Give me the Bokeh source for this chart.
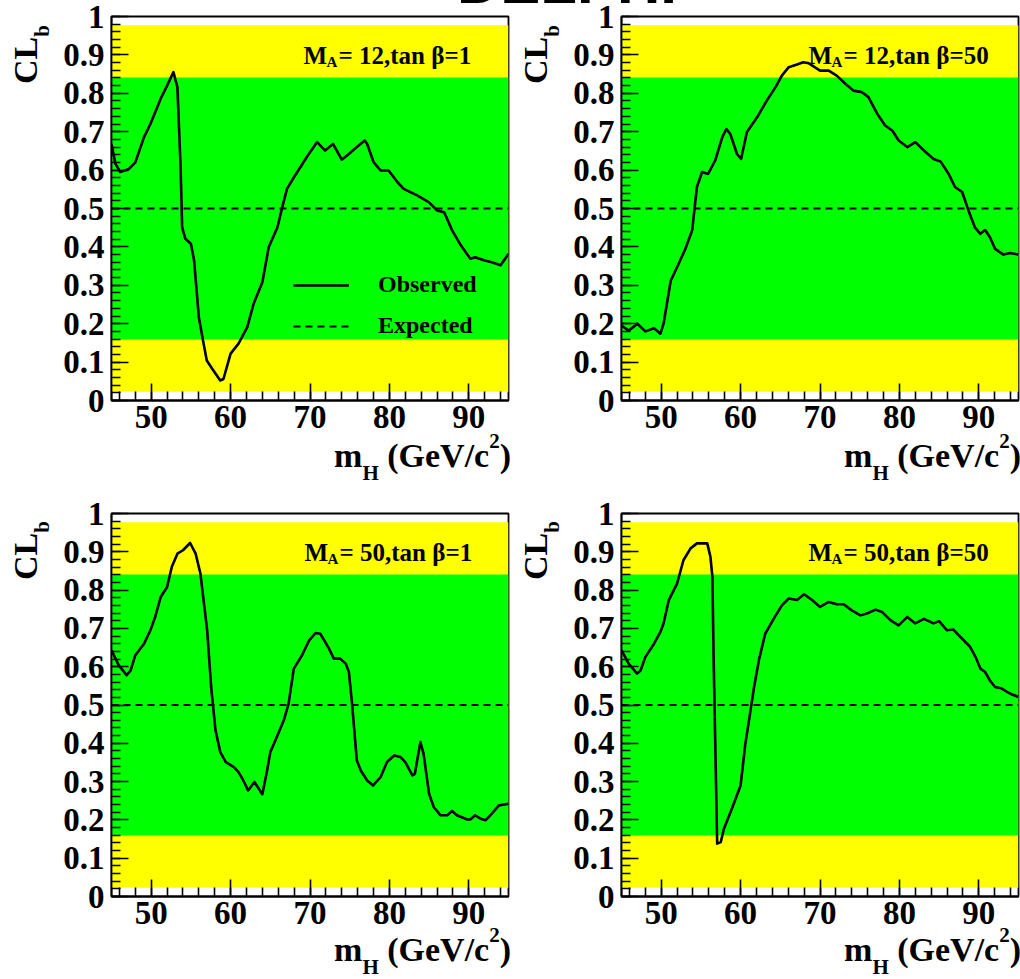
import numpy as np
from bokeh.plotting import figure
from bokeh.models import (Range1d, FixedTicker, BoxAnnotation, Label, Legend,
                          LegendItem, Div)
from bokeh.layouts import column, row
from bokeh.embed import file_html
from bokeh.resources import INLINE

# ---------------- data ----------------
band_2sigma = [0.023, 0.977]
band_1sigma = [0.159, 0.841]
expected_mh = [45, 95]
expected_cl = [0.5, 0.5]

x_ticks = [50, 60, 70, 80, 90]
y_ticks = [0, 0.1, 0.2, 0.3, 0.4, 0.5, 0.6, 0.7, 0.8, 0.9, 1.0]
y_tick_labels = ["0", "0.1", "0.2", "0.3", "0.4", "0.5", "0.6", "0.7", "0.8", "0.9", "1"]

# MA=12, tan beta=1
mh_a = [45.0, 45.5, 46.1, 47.2, 48.0, 49.1, 49.9, 51.2, 52.0, 52.8, 53.3, 53.7, 53.9, 54.3,
        55.0, 55.4, 56.0, 56.6, 57.0, 57.7, 58.7, 59.1, 60.0, 61.0, 62.1, 62.9, 64.0, 64.8,
        65.9, 66.5, 67.1, 68.0, 69.6, 70.9, 71.9, 72.9, 74.0, 74.9, 75.9, 76.9, 77.2, 78.0,
        78.9, 79.9, 81.0, 81.8, 83.5, 85.0, 86.0, 86.9, 87.9, 89.0, 90.2, 90.8, 91.9, 92.9,
        94.0, 95.0]
cl_a = [0.668, 0.616, 0.595, 0.603, 0.620, 0.686, 0.720, 0.786, 0.820, 0.855, 0.816, 0.608,
        0.451, 0.421, 0.408, 0.365, 0.217, 0.148, 0.104, 0.082, 0.052, 0.056, 0.122, 0.148,
        0.191, 0.252, 0.308, 0.399, 0.451, 0.503, 0.551, 0.582, 0.634, 0.673, 0.651, 0.668,
        0.627, 0.642, 0.660, 0.677, 0.668, 0.621, 0.599, 0.599, 0.569, 0.551, 0.534, 0.516,
        0.495, 0.490, 0.443, 0.404, 0.369, 0.373, 0.365, 0.360, 0.352, 0.382]

# MA=12, tan beta=50
mh_b = [45.0, 45.9, 47.0, 48.0, 49.1, 49.9, 50.3, 51.2, 52.0, 53.05, 53.9, 54.5, 55.15, 55.9,
        56.8, 57.7, 58.2, 58.7, 59.55, 60.06, 60.8, 62.1, 63.3, 64.4, 65.2, 66.06, 67.1, 67.9,
        68.6, 70.0, 71.1, 72.1, 73.2, 74.2, 75.3, 76.1, 77.2, 78.2, 79.1, 79.9, 81.0, 82.0,
        83.1, 84.3, 85.2, 86.2, 87.0, 87.9, 88.7, 89.5, 90.2, 90.8, 91.4, 92.05, 93.1, 93.95,
        95.0]
cl_b = [0.195, 0.182, 0.200, 0.180, 0.188, 0.174, 0.200, 0.312, 0.347, 0.395, 0.443, 0.556,
        0.595, 0.590, 0.625, 0.686, 0.707, 0.694, 0.642, 0.629, 0.699, 0.738, 0.781, 0.816,
        0.846, 0.868, 0.875, 0.881, 0.878, 0.859, 0.859, 0.846, 0.825, 0.807, 0.803, 0.790,
        0.747, 0.716, 0.703, 0.677, 0.660, 0.673, 0.651, 0.629, 0.622, 0.590, 0.556, 0.543,
        0.495, 0.451, 0.434, 0.444, 0.425, 0.395, 0.380, 0.384, 0.380]

# MA=50, tan beta=1
mh_c = [45.0, 45.9, 46.9, 47.4, 48.0, 49.1, 49.9, 50.5, 51.2, 52.0, 52.6, 53.3, 54.0, 54.9,
        55.6, 56.2, 57.05, 57.55, 58.1, 58.7, 59.4, 60.4, 61.0, 61.6, 62.2, 63.0, 64.0, 64.6,
        65.0, 65.65, 66.7, 67.3, 67.96, 69.0, 69.9, 70.7, 71.3, 72.4, 73.0, 73.8, 74.5, 74.9,
        75.3, 75.9, 76.4, 77.2, 77.95, 78.9, 79.7, 80.6, 81.4, 82.0, 82.9, 83.2, 83.9, 84.3,
        85.0, 85.6, 86.45, 87.3, 87.9, 88.5, 89.8, 90.2, 90.8, 91.5, 92.1, 92.7, 93.8, 95.0]
cl_c = [0.643, 0.604, 0.578, 0.590, 0.630, 0.660, 0.695, 0.730, 0.782, 0.808, 0.861, 0.895,
        0.904, 0.923, 0.895, 0.843, 0.695, 0.547, 0.434, 0.377, 0.351, 0.338, 0.325, 0.303,
        0.277, 0.299, 0.267, 0.329, 0.377, 0.408, 0.460, 0.503, 0.595, 0.630, 0.669, 0.688,
        0.686, 0.647, 0.621, 0.621, 0.608, 0.586, 0.503, 0.355, 0.329, 0.303, 0.290, 0.312,
        0.351, 0.368, 0.364, 0.351, 0.316, 0.320, 0.403, 0.373, 0.268, 0.233, 0.212, 0.212,
        0.223, 0.212, 0.201, 0.201, 0.212, 0.203, 0.199, 0.212, 0.238, 0.242]

# MA=50, tan beta=50
mh_d = [45.0, 45.9, 46.97, 47.4, 48.0, 49.1, 49.9, 50.3, 50.96, 52.0, 52.8, 53.7, 54.5, 55.8,
        56.2, 56.45, 56.6, 57.05, 57.5, 57.9, 58.9, 60.0, 60.6, 61.06, 61.7, 62.3, 63.1, 64.2,
        65.2, 66.06, 67.1, 68.0, 69.0, 70.0, 71.1, 72.1, 73.0, 74.0, 75.1, 75.9, 77.0, 77.8,
        78.9, 79.9, 81.0, 82.0, 83.1, 84.3, 85.0, 86.0, 86.8, 87.9, 88.9, 89.6, 90.2, 90.8,
        91.4, 92.05, 92.9, 93.9, 95.0]
cl_d = [0.643, 0.608, 0.582, 0.590, 0.625, 0.660, 0.691, 0.713, 0.774, 0.817, 0.878, 0.909,
        0.922, 0.922, 0.887, 0.834, 0.625, 0.138, 0.142, 0.177, 0.229, 0.290, 0.399, 0.460,
        0.547, 0.617, 0.686, 0.726, 0.760, 0.778, 0.774, 0.789, 0.774, 0.756, 0.769, 0.763,
        0.763, 0.747, 0.734, 0.739, 0.749, 0.743, 0.721, 0.708, 0.730, 0.713, 0.725, 0.713,
        0.719, 0.695, 0.697, 0.673, 0.652, 0.625, 0.595, 0.586, 0.564, 0.547, 0.543, 0.530,
        0.521]

panel_ma = ["12", "12", "50", "50"]
panel_tanb = ["1", "50", "1", "50"]
title_text = "DELPHI"
x_title = ("m", "H", " (GeV/c", "2", ")")
y_title = ("CL", "b")

SERIF = "Liberation Serif"


def lab(p, text, x, y, dx, dy, size):
    p.add_layout(Label(x=x, y=y, x_offset=dx, y_offset=dy, text=text,
                       text_font=SERIF, text_font_style="bold", text_font_size=size,
                       text_color="black", text_align="left", text_baseline="alphabetic"))


def make_panel(mh, cl, ma, tanb, frame_h, b_left, b_right, b_top, b_bottom, ann_dx,
               legend=False):
    p = figure(frame_width=397, frame_height=frame_h,
               x_range=Range1d(45, 95), y_range=Range1d(0, 1),
               output_backend="svg", toolbar_location=None,
               min_border_left=b_left, min_border_right=b_right,
               min_border_top=b_top, min_border_bottom=b_bottom,
               background_fill_color="white", border_fill_color="white")
    p.grid.visible = False
    p.outline_line_color = "black"
    p.outline_line_width = 1.8

    p.add_layout(BoxAnnotation(bottom=band_2sigma[0], top=band_2sigma[1],
                               fill_color="#ffff00", fill_alpha=1.0, line_color=None,
                               level="underlay"))
    p.add_layout(BoxAnnotation(bottom=band_1sigma[0], top=band_1sigma[1],
                               fill_color="#00ff00", fill_alpha=1.0, line_color=None,
                               level="underlay"))

    r_exp = p.line(expected_mh, expected_cl, line_color="black", line_width=2,
                   line_dash="7 5")
    r_obs = p.line(mh, cl, line_color="black", line_width=2.6, line_join="round")

    p.xaxis.ticker = FixedTicker(ticks=x_ticks, minor_ticks=list(range(46, 96, 2)))
    p.yaxis.ticker = FixedTicker(ticks=y_ticks,
                                 minor_ticks=[round(0.02 * i, 2) for i in range(51)])
    p.yaxis.major_label_overrides = dict(zip(y_ticks, y_tick_labels))
    for ax in (p.xaxis[0], p.yaxis[0]):
        ax.major_tick_in = 17
        ax.major_tick_out = 0
        ax.minor_tick_in = 9
        ax.minor_tick_out = 0
        ax.major_tick_line_color = "black"
        ax.minor_tick_line_color = "black"
        ax.major_tick_line_width = 1.6
        ax.minor_tick_line_width = 1.6
        ax.axis_line_color = "black"
        ax.axis_line_width = 1.8
        ax.major_label_text_font = SERIF
        ax.major_label_text_font_style = "bold"
        ax.major_label_text_font_size = "33px"
        ax.major_label_text_color = "black"
    p.xaxis.major_label_standoff = 5
    p.yaxis.major_label_standoff = 7

    # panel annotation  M_A= .., tan beta=..
    lab(p, "M", 45, 1, ann_dx, -39, "25px")
    lab(p, "A", 45, 1, ann_dx + 23, -45, "15px")
    lab(p, "= %s,tan \u03b2=%s" % (ma, tanb), 45, 1, ann_dx + 35, -39, "25px")

    if legend:
        leg = Legend(items=[LegendItem(label="Observed", renderers=[r_obs]),
                            LegendItem(label="Expected", renderers=[r_exp])],
                     location=(182, 61), orientation="vertical",
                     glyph_width=56, glyph_height=24, label_height=24, label_width=90,
                     spacing=14, padding=0, margin=0, label_standoff=29,
                     border_line_color=None, background_fill_alpha=0.0,
                     label_text_font=SERIF, label_text_font_style="bold",
                     label_text_font_size="24px", label_text_color="black")
        p.add_layout(leg)
    return p


p1 = make_panel(mh_a, cl_a, panel_ma[0], panel_tanb[0], 384, 111, 4, 16, 90, 192, legend=True)
p2 = make_panel(mh_b, cl_b, panel_ma[1], panel_tanb[1], 384, 109, 2, 16, 90, 187)
p3 = make_panel(mh_c, cl_c, panel_ma[2], panel_tanb[2], 383, 111, 4, 23, 83, 193)
p4 = make_panel(mh_d, cl_d, panel_ma[3], panel_tanb[3], 383, 109, 2, 23, 83, 187)

# ---- axis titles (with sub/superscripts) and the cropped page title, as HTML ----
FONT = ("font-family:'Liberation Serif',serif;font-weight:bold;line-height:1;"
        "white-space:nowrap;color:black;")


def x_title_html(right_edge, baseline):
    top = baseline - 28.5
    m, sub, mid, sup, end = x_title
    return ('<div style="position:absolute;left:%.1fpx;top:%.1fpx;width:300px;'
            'text-align:right;font-size:34px;%s">%s'
            '<span style="font-size:21px;position:relative;top:13px;">%s</span>%s'
            '<span style="font-size:21px;position:relative;top:-19px;">%s</span>%s</div>'
            % (right_edge - 300, top, FONT, m, sub, mid, sup, end))


def y_title_html(baseline_x, start_y):
    left = baseline_x - 28.5
    main, sub = y_title
    return ('<div style="position:absolute;left:%.1fpx;top:%.1fpx;transform-origin:0 0;'
            'transform:rotate(-90deg);font-size:34px;%s">%s'
            '<span style="font-size:21px;position:relative;top:12px;">%s</span></div>'
            % (left, start_y, FONT, main, sub))


html = []
for dx, dy in [(0, 0), (510, 0), (0, 494), (510, 494)]:
    html.append(x_title_html(506 + dx, 462 + dy))
    html.append(y_title_html(32 + dx, 79 + dy + (2 if dy else 0)))
html.append('<div style="position:absolute;left:452px;top:-52px;'
            "font-family:'Liberation Sans',sans-serif;font-weight:bold;font-size:60px;"
            'line-height:1;white-space:nowrap;color:black;">%s</div>' % title_text)

overlay = Div(text="".join(html), width=1020, height=979,
              styles={"position": "absolute", "left": "0px", "top": "0px",
                      "overflow": "visible", "z-index": "10",
                      "pointer-events": "none"})

layout = column(row(p1, p2), row(p3, p4), overlay)

open("out.html", "w").write(file_html(layout, INLINE))
